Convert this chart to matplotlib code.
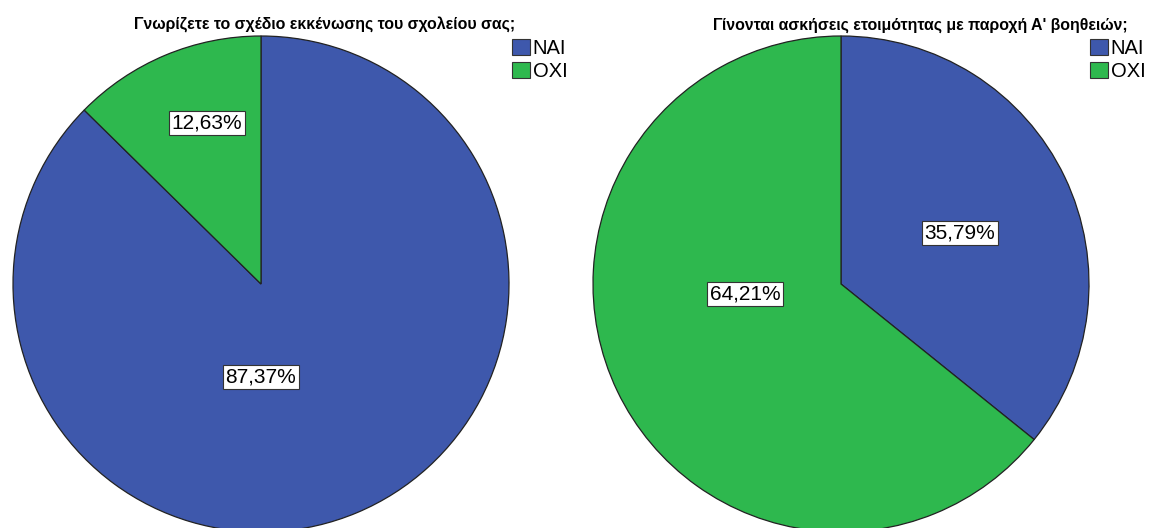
"""Two SPSS-style pie charts: evacuation plan / first aid drills."""

import matplotlib
matplotlib.use("Agg")

import matplotlib.pyplot as plt
from matplotlib.patches import Patch

categories = ["ΝΑΙ", "ΟΧΙ"]
titles = [
    "Γνωρίζετε το σχέδιο εκκένωσης του σχολείου σας;",
    "Γίνονται ασκήσεις ετοιμότητας με παροχή Α' βοηθειών;",
]
evacuation_pct = [87.37, 12.63]
first_aid_pct = [35.79, 64.21]

colors = ["#3E58AC", "#2EB84E"]

# label spots inside each pie (pie radius = 1), as SPSS placed them
label_spots = [
    [(0.0, -0.375), (-0.218, 0.649)],
    [(0.48, 0.206), (-0.387, -0.04)],
]

plt.rcParams["font.family"] = ["Liberation Sans", "DejaVu Sans"]

W, H = 1152, 528
fig = plt.figure(figsize=(W / 100, H / 100), dpi=100)

centers = [(261, 284), (841, 284)]
radius = 248
title_x = [325, 920]
legend_x = [512, 1090]

for i, values in enumerate([evacuation_pct, first_aid_pct]):
    cx, cy = centers[i]
    ax = fig.add_axes([(cx - radius) / W, (H - cy - radius) / H,
                       2 * radius / W, 2 * radius / H])
    ax.pie(values, colors=colors, startangle=90, counterclock=False,
           radius=1, wedgeprops=dict(edgecolor="#222222", linewidth=0.9))
    ax.set_xlim(-1, 1)
    ax.set_ylim(-1, 1)
    ax.axis("off")
    for v, (lx, ly) in zip(values, label_spots[i]):
        ax.text(lx, ly, f"{v:.2f}%".replace(".", ","), ha="center", va="center",
                fontsize=15,
                bbox=dict(boxstyle="square,pad=0.12", facecolor="white",
                          edgecolor="#333333", linewidth=0.8))

    fig.text(title_x[i] / W, 1 - 25 / H, titles[i], ha="center", va="center",
             fontsize=11.4, fontweight="bold")

    handles = [Patch(facecolor=c, edgecolor="#333333", linewidth=0.8) for c in colors]
    fig.legend(handles, categories, loc="upper left",
               bbox_to_anchor=(legend_x[i] / W, 1 - 39 / H),
               frameon=False, fontsize=14.5, handlelength=0.9, handleheight=0.8,
               handletextpad=0.12, labelspacing=0.2, borderpad=0,
               borderaxespad=0)

fig.savefig("out.png", dpi=100)
plt.close(fig)
